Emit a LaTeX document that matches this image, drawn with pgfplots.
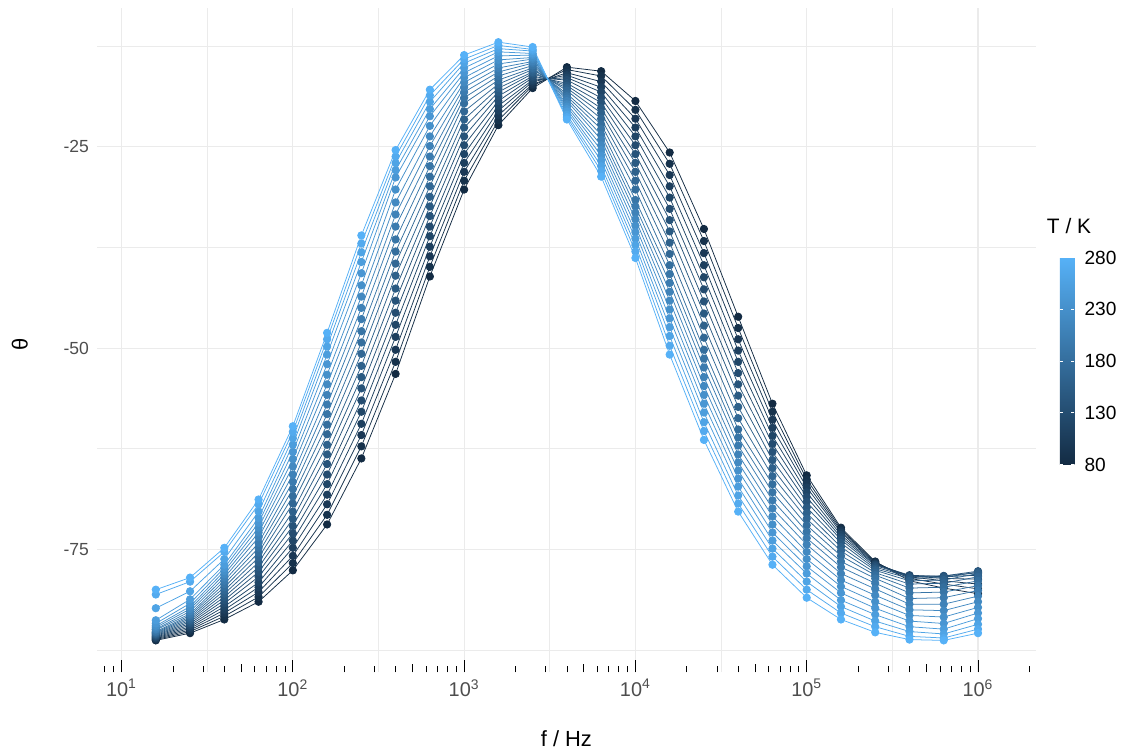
\documentclass[border=0pt]{standalone}
\usepackage{fontspec}
\setmainfont{Liberation Sans}
\usepackage{pgfplots}
\usepackage{pgfplotstable}
\pgfplotsset{compat=1.18}

\definecolor{lowT}{HTML}{132B43}
\definecolor{highT}{HTML}{56B1F7}
\definecolor{gridgrey}{HTML}{EBEBEB}
\definecolor{ticktext}{HTML}{4D4D4D}

% phase angle theta versus frequency f (Hz); one column per temperature T (K)
\pgfplotstableread{
f       T80   T90   T100  T110  T120  T130  T140  T150  T160  T170  T180  T190  T200  T210  T220  T230  T240  T250  T260  T270  T280
15.849  -86.3 -86.2 -86.1 -86.0 -85.9 -85.8 -85.7 -85.6 -85.5 -85.4 -85.3 -85.2 -85.0 -84.9 -84.7 -84.5 -84.2 -83.8 -82.3 -80.6 -80.0
25.119  -85.4 -85.2 -85.0 -84.8 -84.6 -84.4 -84.2 -84.0 -83.8 -83.6 -83.4 -83.2 -83.0 -82.7 -82.4 -82.1 -81.7 -81.2 -80.2 -79.0 -78.5
39.811  -83.7 -83.3 -82.9 -82.5 -82.1 -81.7 -81.3 -80.9 -80.5 -80.1 -79.7 -79.3 -78.9 -78.5 -78.1 -77.7 -77.3 -76.9 -76.2 -75.3 -74.8
63.096  -81.5 -80.9 -80.3 -79.7 -79.1 -78.4 -77.8 -77.2 -76.6 -76.0 -75.4 -74.8 -74.2 -73.5 -72.9 -72.3 -71.7 -71.1 -70.3 -69.4 -68.8
100     -77.6 -76.7 -75.8 -74.8 -73.9 -73.0 -72.1 -71.2 -70.3 -69.3 -68.4 -67.5 -66.6 -65.7 -64.7 -63.8 -62.9 -62.0 -61.2 -60.4 -59.7
158.49  -71.9 -70.7 -69.4 -68.2 -66.9 -65.7 -64.4 -63.2 -62.0 -60.7 -59.5 -58.2 -57.0 -55.8 -54.5 -53.3 -52.0 -50.8 -49.8 -48.9 -48.1
251.19  -63.7 -62.2 -60.8 -59.4 -57.9 -56.5 -55.0 -53.6 -52.2 -50.7 -49.3 -47.9 -46.4 -45.0 -43.6 -42.2 -40.7 -39.3 -38.1 -37.0 -36.0
398.11  -53.2 -51.7 -50.2 -48.6 -47.1 -45.6 -44.1 -42.6 -41.0 -39.5 -38.0 -36.5 -34.9 -33.4 -31.9 -30.3 -28.8 -27.9 -27.0 -26.2 -25.4
630.96  -41.1 -39.9 -38.6 -37.4 -36.1 -34.9 -33.6 -32.4 -31.2 -29.9 -28.7 -27.4 -26.2 -24.9 -23.7 -22.4 -21.2 -20.3 -19.4 -18.6 -17.9
1000    -30.3 -29.2 -28.1 -27.0 -25.9 -24.8 -23.7 -22.6 -21.6 -20.6 -19.6 -18.9 -18.2 -17.6 -17.0 -16.4 -15.8 -15.2 -14.6 -14.1 -13.6
1584.9  -22.3 -21.7 -21.1 -20.5 -19.9 -19.3 -18.7 -18.2 -17.7 -17.2 -16.7 -16.2 -15.7 -15.2 -14.7 -14.2 -13.7 -13.2 -12.8 -12.4 -12.0
2511.9  -17.7 -17.4 -17.2 -16.9 -16.7 -16.4 -16.2 -15.9 -15.7 -15.4 -15.2 -14.9 -14.6 -14.4 -14.1 -13.9 -13.6 -13.4 -13.1 -12.9 -12.6
3981.1  -15.1 -15.4 -15.8 -16.1 -16.4 -16.7 -17.1 -17.4 -17.7 -18.0 -18.4 -18.7 -19.0 -19.3 -19.7 -20.0 -20.3 -20.6 -21.0 -21.3 -21.6
6309.6  -15.6 -16.2 -16.9 -17.6 -18.2 -18.9 -19.5 -20.2 -20.8 -21.5 -22.2 -22.8 -23.5 -24.1 -24.8 -25.4 -26.1 -26.7 -27.4 -28.0 -28.7
10000   -19.3 -20.4 -21.5 -22.6 -23.7 -24.8 -25.9 -27.0 -28.1 -29.2 -30.3 -31.6 -32.4 -33.2 -34.0 -34.8 -35.6 -36.4 -37.2 -38.0 -38.8
15849   -25.7 -27.1 -28.5 -29.9 -31.3 -32.7 -34.1 -35.5 -36.9 -38.3 -39.7 -40.8 -41.9 -43.0 -44.1 -45.2 -46.3 -47.4 -48.5 -49.7 -50.8
25119   -35.2 -36.7 -38.2 -39.7 -41.2 -42.7 -44.2 -45.7 -47.2 -48.7 -50.2 -51.3 -52.4 -53.6 -54.7 -55.8 -56.9 -58.0 -59.2 -60.3 -61.4
39811   -46.1 -47.5 -48.9 -50.3 -51.7 -53.1 -54.5 -55.9 -57.3 -58.7 -60.1 -61.1 -62.1 -63.2 -64.2 -65.2 -66.2 -67.2 -68.3 -69.3 -70.3
63096   -56.9 -57.9 -58.9 -59.9 -60.9 -61.9 -62.9 -63.9 -64.9 -65.9 -66.9 -67.9 -68.9 -69.9 -70.9 -71.9 -72.9 -73.9 -74.9 -75.9 -76.9
100000  -65.8 -66.3 -66.8 -67.3 -67.9 -68.5 -69.1 -69.8 -70.5 -71.2 -72.0 -72.8 -73.6 -74.4 -75.3 -76.2 -77.1 -78.0 -79.0 -80.0 -81.0
158489  -72.3 -72.5 -72.7 -72.9 -73.2 -73.5 -73.8 -74.2 -74.7 -75.2 -75.8 -76.5 -77.2 -78.0 -78.8 -79.6 -80.4 -81.3 -82.1 -82.9 -83.7
251189  -76.5 -76.6 -76.7 -76.8 -76.9 -77.0 -77.2 -77.4 -77.6 -77.9 -78.2 -78.6 -79.2 -79.9 -80.7 -81.5 -82.3 -83.1 -83.9 -84.6 -85.3
398107  -78.9 -78.6 -78.4 -78.3 -78.2 -78.3 -78.4 -78.6 -78.9 -79.3 -79.8 -80.4 -81.1 -81.8 -82.5 -83.2 -83.9 -84.6 -85.2 -85.8 -86.2
630957  -79.8 -79.3 -78.9 -78.6 -78.4 -78.3 -78.3 -78.5 -78.8 -79.2 -79.7 -80.3 -81.0 -81.8 -82.6 -83.4 -84.2 -84.9 -85.5 -86.0 -86.3
1000000 -80.5 -79.9 -79.3 -78.7 -78.2 -77.9 -77.7 -77.8 -78.0 -78.4 -78.9 -79.5 -80.1 -80.8 -81.5 -82.2 -82.9 -83.6 -84.3 -84.9 -85.4
}\phasedata

% #1 = temperature column, #2 = share of the high-temperature colour (percent)
\newcommand{\phaseline}[2]{%
  \addplot[color=highT!#2!lowT, line width=0.38bp, no markers] table[x=f, y=T#1] {\phasedata};}
\newcommand{\phasedots}[2]{%
  \addplot[color=highT!#2!lowT, only marks, mark=*, mark size=1.85bp, mark options={draw=none}] table[x=f, y=T#1] {\phasedata};}

\begin{document}
\begin{tikzpicture}
\path (-48.5bp,-40.5bp) rectangle (513bp,336.5bp);
\begin{axis}[
  at={(0,0)}, anchor=south west,
  scale only axis, width=470bp, height=332.5bp,
  xmode=log, xmin=7.18, xmax=2.178e6,
  ymin=-90.26, ymax=-7.75,
  axis line style={draw=none},
  tick align=inside,
  xtick pos=left,
  xtick={10,100,1000,10000,100000,1000000},
  xticklabels={10\textsuperscript{1},10\textsuperscript{2},10\textsuperscript{3},10\textsuperscript{4},10\textsuperscript{5},10\textsuperscript{6}},
  minor xtick={8,9,20,30,40,60,70,80,90,200,300,400,600,700,800,900,2000,3000,4000,6000,7000,8000,9000,20000,30000,40000,60000,70000,80000,90000,200000,300000,400000,600000,700000,800000,900000,2000000},
  major tick length=6bp, minor tick length=3bp,
  xtick style={black, line width=0.5bp},
  ytick={-75,-50,-25}, yticklabels={-75,-50,-25},
  ytick style={draw=none},
  xmajorgrids, ymajorgrids,
  major grid style={gridgrey, line width=0.55bp},
  extra x ticks={31.623,316.23,3162.3,31623,316228},
  extra x tick style={major tick length=0pt, xticklabel={}, major grid style={gridgrey, line width=0.35bp}},
  extra y ticks={-87.5,-62.5,-37.5,-12.5},
  extra y tick style={major tick length=0pt, yticklabel={}, major grid style={gridgrey, line width=0.35bp}},
  xticklabel style={font=\fontsize{10}{11}\selectfont, text=ticktext},
  yticklabel style={font=\fontsize{8.8}{10}\selectfont, text=ticktext, xshift=-0.5bp},
  xlabel={f / Hz}, ylabel={θ},
  xlabel style={at={(axis description cs:0.5,0)}, anchor=base, yshift=-37bp, font=\fontsize{11}{13}\selectfont},
  ylabel style={at={(axis description cs:-0.082,0.493)}, anchor=center, font=\fontsize{11}{13}\selectfont},
  colormap={Tmap}{rgb255=(19,43,67) rgb255=(86,177,247)},
  point meta min=80, point meta max=280,
  colorbar,
  colorbar style={
    at={(parent axis.north east)}, anchor=north west,
    xshift=3.5bp, yshift=-125bp,
    scale only axis, width=7.3bp, height=103.5bp,
    axis line style={draw=none},
    xmajorgrids=false, ymajorgrids=false,
    extra x ticks={}, extra y ticks={}, minor xtick={}, minor ytick={},
    ytick={80,130,180,230,280},
    yticklabels={80,130,180,230,280},
    ytick pos=both, yticklabel pos=right,
    tick align=inside, major tick length=1.6bp,
    ytick style={draw=white, line width=0.6bp},
    yticklabel style={font=\fontsize{9.6}{11}\selectfont, text=black, xshift=1.5bp},
    title={T / K},
    title style={at={(0,1)}, anchor=base west, xshift=-10bp, yshift=6bp, font=\fontsize{10.5}{12}\selectfont},
  },
]
% connecting lines first, low temperature underneath
\phaseline{80}{0}   \phaseline{90}{5}   \phaseline{100}{10} \phaseline{110}{15}
\phaseline{120}{20} \phaseline{130}{25} \phaseline{140}{30} \phaseline{150}{35}
\phaseline{160}{40} \phaseline{170}{45} \phaseline{180}{50} \phaseline{190}{55}
\phaseline{200}{60} \phaseline{210}{65} \phaseline{220}{70} \phaseline{230}{75}
\phaseline{240}{80} \phaseline{250}{85} \phaseline{260}{90} \phaseline{270}{95}
\phaseline{280}{100}
% measured points on top
\phasedots{80}{0}   \phasedots{90}{5}   \phasedots{100}{10} \phasedots{110}{15}
\phasedots{120}{20} \phasedots{130}{25} \phasedots{140}{30} \phasedots{150}{35}
\phasedots{160}{40} \phasedots{170}{45} \phasedots{180}{50} \phasedots{190}{55}
\phasedots{200}{60} \phasedots{210}{65} \phasedots{220}{70} \phasedots{230}{75}
\phasedots{240}{80} \phasedots{250}{85} \phasedots{260}{90} \phasedots{270}{95}
\phasedots{280}{100}
% mid-decade log ticks
\pgfplotsinvokeforeach{50,500,5000,50000,500000}{
  \draw[black, line width=0.5bp] (axis cs:#1,-90.26) -- ([yshift=4.2bp]axis cs:#1,-90.26);
}
\end{axis}
\end{tikzpicture}
\end{document}
